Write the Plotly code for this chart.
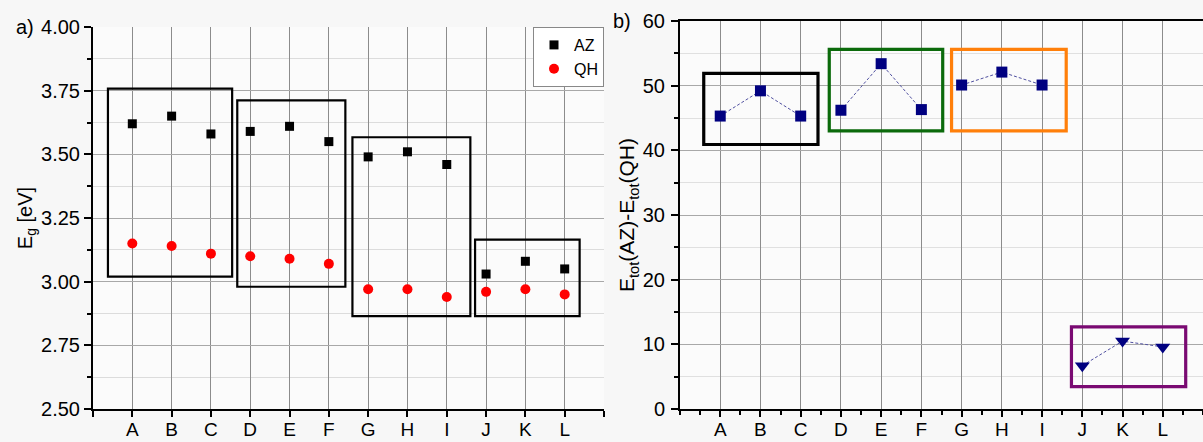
import plotly.graph_objects as go

categories = ["A", "B", "C", "D", "E", "F", "G", "H", "I", "J", "K", "L"]
eg_az = [3.62, 3.65, 3.58, 3.59, 3.61, 3.55, 3.49, 3.51, 3.46, 3.03, 3.08, 3.05]
eg_qh = [3.15, 3.14, 3.11, 3.10, 3.09, 3.07, 2.97, 2.97, 2.94, 2.96, 2.97, 2.95]
de_tot = [45.3, 49.2, 45.3, 46.2, 53.4, 46.3, 50.1, 52.1, 50.1, 6.7, 10.5, 9.6]
groups = [0, 0, 0, 1, 1, 1, 2, 2, 2, 3, 3, 3]

xpos = list(range(1, len(categories) + 1))
FONT = "Liberation Sans, Arial, sans-serif"
NAVY = "#000080"

fig = go.Figure()

# Panel a
fig.add_trace(go.Scatter(x=xpos, y=eg_az, mode="markers", name="AZ",
                         marker=dict(symbol="square", size=9, color="black"),
                         xaxis="x", yaxis="y"))
fig.add_trace(go.Scatter(x=xpos, y=eg_qh, mode="markers", name="QH",
                         marker=dict(symbol="circle", size=10, color="#ff0000"),
                         xaxis="x", yaxis="y"))

# Panel b: dashed connectors within each group
lx, ly = [], []
for i, (xv, yv) in enumerate(zip(xpos, de_tot)):
    if i > 0 and groups[i] != groups[i - 1]:
        lx.append(None)
        ly.append(None)
    lx.append(xv)
    ly.append(yv)
fig.add_trace(go.Scatter(x=lx, y=ly, mode="lines", showlegend=False,
                         line=dict(color="#5050a0", width=1, dash="3px,2px"),
                         xaxis="x2", yaxis="y2"))
sq_x = [x for x, g in zip(xpos, groups) if g < 3]
sq_y = [y for y, g in zip(de_tot, groups) if g < 3]
tr_x = [x for x, g in zip(xpos, groups) if g == 3]
tr_y = [y for y, g in zip(de_tot, groups) if g == 3]
fig.add_trace(go.Scatter(x=sq_x, y=sq_y, mode="markers", showlegend=False,
                         marker=dict(symbol="square", size=11, color=NAVY),
                         xaxis="x2", yaxis="y2"))
fig.add_trace(go.Scatter(x=tr_x, y=tr_y, mode="markers", showlegend=False,
                         marker=dict(symbol="triangle-down", size=13, color=NAVY),
                         xaxis="x2", yaxis="y2"))

# Boxes
boxes_a = [(0.38, 3.54, 3.02, 3.758), (3.67, 6.42, 2.98, 3.712),
           (6.6, 9.6, 2.865, 3.567), (9.72, 12.38, 2.865, 3.165)]
for x0, x1, y0, y1 in boxes_a:
    fig.add_shape(type="rect", xref="x", yref="y", x0=x0, x1=x1, y0=y0, y1=y1,
                  line=dict(color="black", width=2.2))
boxes_b = [(0.59, 3.43, 40.9, 51.9, "black"), (3.71, 6.53, 43.0, 55.6, "#0b6a0b"),
           (6.75, 9.6, 43.0, 55.6, "#ff7f0a"), (9.73, 12.57, 3.45, 12.7, "#7a0a72")]
for x0, x1, y0, y1, c in boxes_b:
    fig.add_shape(type="rect", xref="x2", yref="y2", x0=x0, x1=x1, y0=y0, y1=y1,
                  line=dict(color=c, width=3.2))

W, H = 1203, 442
xa_dom = [93 / W, 604 / W]
xb_dom = [680 / W, 1.0]
ya_dom = [1 - 409 / H, 1 - 27 / H]
yb_dom = [1 - 409 / H, 1 - 21 / H]

tickfont = dict(family=FONT, size=20, color="black")
xtickfont = dict(family=FONT, size=19, color="black")

common_x = dict(range=[0, 13], tickmode="array", tickvals=xpos, ticktext=categories,
                showline=True, linecolor="black", linewidth=2, ticks="outside",
                ticklen=6, tickwidth=1.5, tickcolor="black", showgrid=True,
                gridcolor="#8c8c8c", gridwidth=1, tickfont=xtickfont, zeroline=False,
                automargin=False, ticklabelstandoff=-4)

fig.update_layout(
    width=W, height=H, margin=dict(l=0, r=0, t=0, b=0, autoexpand=False),
    paper_bgcolor="#f7f7f7", plot_bgcolor="#fbfbfb",
    font=dict(family=FONT, size=20, color="black"),
    xaxis=dict(domain=xa_dom, anchor="y",
               minor=dict(tickvals=[0, 13], ticks="outside", ticklen=6, tickwidth=1.5,
                          tickcolor="black", showgrid=True, gridcolor="#9a9a9a"),
               **common_x),
    yaxis=dict(domain=ya_dom, anchor="x", range=[2.5, 4.0], dtick=0.25, tick0=2.5,
               tickformat=".2f", showline=True, linecolor="black", linewidth=2,
               ticks="outside", ticklen=7, tickwidth=1.5, tickcolor="black",
               showgrid=True, gridcolor="#a8a8a8", gridwidth=1, zeroline=False,
               tickfont=tickfont, automargin=False,
               minor=dict(dtick=0.125, tick0=2.5, ticks="outside", ticklen=4,
                          tickcolor="black", showgrid=True, gridcolor="#dcdcdc"),
               title=dict(text="E<sub>g</sub> [eV]", standoff=3,
                          font=dict(family=FONT, size=20))),
    xaxis2=dict(domain=xb_dom, anchor="y2", mirror=True,
                minor=dict(tickvals=[v * 0.5 for v in range(0, 27)], ticks="outside",
                           ticklen=4, tickcolor="black", showgrid=False),
                **common_x),
    yaxis2=dict(domain=yb_dom, anchor="x2", range=[0, 60], dtick=10,
                showline=True, linecolor="black", linewidth=2,
                ticks="outside", ticklen=7, tickwidth=1.5, tickcolor="black",
                showgrid=True, gridcolor="#a8a8a8", gridwidth=1, zeroline=False,
                tickfont=tickfont, automargin=False, ticklabelstandoff=2,
                minor=dict(dtick=5, ticks="outside", ticklen=4, tickcolor="black",
                           showgrid=True, gridcolor="#e0e0e0"),
                title=dict(text="E<sub>tot</sub>(AZ)-E<sub>tot</sub>(QH)", standoff=2,
                           font=dict(family=FONT, size=21))),
    legend=dict(x=604 / W, xanchor="right", y=1 - 27 / H, yanchor="top",
                bgcolor="white", bordercolor="#888888", borderwidth=1,
                font=dict(family=FONT, size=16), itemwidth=30),
    annotations=[
        dict(text="a)", xref="paper", yref="paper", x=14 / W, y=1 - 27 / H,
             xanchor="left", yanchor="middle", showarrow=False,
             font=dict(family=FONT, size=20)),
        dict(text="b)", xref="paper", yref="paper", x=611 / W, y=1 - 21 / H,
             xanchor="left", yanchor="middle", showarrow=False,
             font=dict(family=FONT, size=20)),
    ],
)

fig.write_html("out.html")
